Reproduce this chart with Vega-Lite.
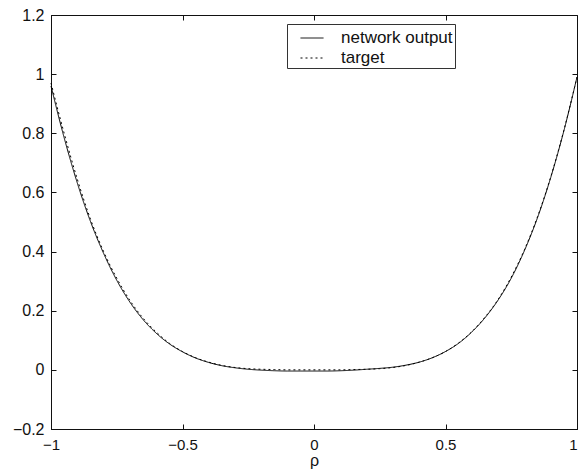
{
  "$schema": "https://vega.github.io/schema/vega-lite/v6.json",
  "width": 526,
  "height": 414,
  "autosize": "none",
  "padding": {"left": 51, "top": 15, "right": 1, "bottom": 42},
  "background": "white",
  "config": {
    "font": "Liberation Sans",
    "view": {"stroke": "#111", "strokeWidth": 1},
    "axis": {
      "grid": false,
      "domainColor": "#111",
      "tickColor": "#111",
      "tickSize": -5,
      "labelFontSize": 16,
      "labelColor": "#111",
      "labelFlush": false,
      "titleFontSize": 16,
      "titleFontWeight": "normal",
      "titleColor": "#111"
    }
  },
  "data": {
    "values": [
      {"p": -1.0, "network output": 0.96, "target": 0.97},
      {"p": -0.95, "network output": 0.785, "target": 0.8},
      {"p": -0.9, "network output": 0.632, "target": 0.645},
      {"p": -0.85, "network output": 0.502, "target": 0.51},
      {"p": -0.8, "network output": 0.394, "target": 0.4},
      {"p": -0.75, "network output": 0.303, "target": 0.31},
      {"p": -0.7, "network output": 0.229, "target": 0.235},
      {"p": -0.65, "network output": 0.17, "target": 0.175},
      {"p": -0.6, "network output": 0.124, "target": 0.128},
      {"p": -0.55, "network output": 0.088, "target": 0.09},
      {"p": -0.5, "network output": 0.061, "target": 0.062},
      {"p": -0.45, "network output": 0.04, "target": 0.041},
      {"p": -0.4, "network output": 0.025, "target": 0.026},
      {"p": -0.35, "network output": 0.014, "target": 0.015},
      {"p": -0.3, "network output": 0.007, "target": 0.008},
      {"p": -0.25, "network output": 0.002, "target": 0.004},
      {"p": -0.2, "network output": -0.001, "target": 0.002},
      {"p": -0.15, "network output": -0.003, "target": 0.001},
      {"p": -0.1, "network output": -0.004, "target": 0.0},
      {"p": -0.05, "network output": -0.004, "target": 0.0},
      {"p": 0.0, "network output": -0.004, "target": 0.0},
      {"p": 0.05, "network output": -0.004, "target": 0.0},
      {"p": 0.1, "network output": -0.003, "target": 0.0},
      {"p": 0.15, "network output": -0.001, "target": 0.001},
      {"p": 0.2, "network output": 0.002, "target": 0.002},
      {"p": 0.25, "network output": 0.005, "target": 0.004},
      {"p": 0.3, "network output": 0.009, "target": 0.008},
      {"p": 0.35, "network output": 0.016, "target": 0.015},
      {"p": 0.4, "network output": 0.026, "target": 0.026},
      {"p": 0.45, "network output": 0.041, "target": 0.041},
      {"p": 0.5, "network output": 0.062, "target": 0.062},
      {"p": 0.55, "network output": 0.09, "target": 0.091},
      {"p": 0.6, "network output": 0.128, "target": 0.129},
      {"p": 0.65, "network output": 0.176, "target": 0.178},
      {"p": 0.7, "network output": 0.236, "target": 0.238},
      {"p": 0.75, "network output": 0.31, "target": 0.314},
      {"p": 0.8, "network output": 0.403, "target": 0.406},
      {"p": 0.85, "network output": 0.515, "target": 0.518},
      {"p": 0.9, "network output": 0.65, "target": 0.652},
      {"p": 0.95, "network output": 0.808, "target": 0.81},
      {"p": 1.0, "network output": 0.99, "target": 0.99}
    ]
  },
  "transform": [
    {"fold": ["network output", "target"], "as": ["series", "value"]}
  ],
  "layer": [
    {
      "mark": {"type": "line", "color": "black", "strokeWidth": 1, "interpolate": "monotone"},
      "encoding": {
        "x": {
          "field": "p",
          "type": "quantitative",
          "scale": {"domain": [-1, 1], "nice": false, "zero": false},
          "axis": {
            "values": [-1, -0.5, 0, 0.5, 1],
            "format": "~g",
            "title": "ρ",
            "labelFontSize": 15,
            "labelPadding": 13,
            "labelAlign": {"expr": "datum.value == 1 ? 'right' : 'center'"},
            "titlePadding": 0
          }
        },
        "y": {
          "field": "value",
          "type": "quantitative",
          "scale": {"domain": [-0.2, 1.2], "nice": false, "zero": false},
          "axis": {
            "values": [-0.2, 0, 0.2, 0.4, 0.6, 0.8, 1, 1.2],
            "format": "~g",
            "title": null,
            "labelPadding": 12
          }
        },
        "strokeDash": {
          "field": "series",
          "type": "nominal",
          "scale": {"domain": ["network output", "target"], "range": [[1, 0], [2, 3]]},
          "legend": {
            "title": null,
            "orient": "none",
            "legendX": 236,
            "legendY": 9,
            "padding": 2,
            "rowPadding": 0,
            "strokeColor": "#333",
            "fillColor": "white",
            "symbolType": "stroke",
            "symbolSize": 529,
            "symbolStrokeWidth": 1,
            "symbolStrokeColor": "black",
            "symbolOffset": 11,
            "labelOffset": 17,
            "labelFontSize": 17,
            "labelColor": "#111"
          }
        }
      }
    },
    {
      "mark": {"type": "line", "strokeOpacity": 0},
      "encoding": {
        "x": {
          "field": "p",
          "type": "quantitative",
          "axis": {"orient": "top", "values": [-1, -0.5, 0, 0.5, 1], "labels": false, "title": null, "domain": false}
        },
        "y": {
          "field": "value",
          "type": "quantitative",
          "axis": {"orient": "right", "values": [-0.2, 0, 0.2, 0.4, 0.6, 0.8, 1, 1.2], "labels": false, "title": null, "domain": false}
        },
        "detail": {"field": "series"}
      }
    }
  ],
  "resolve": {"axis": {"x": "independent", "y": "independent"}}
}
